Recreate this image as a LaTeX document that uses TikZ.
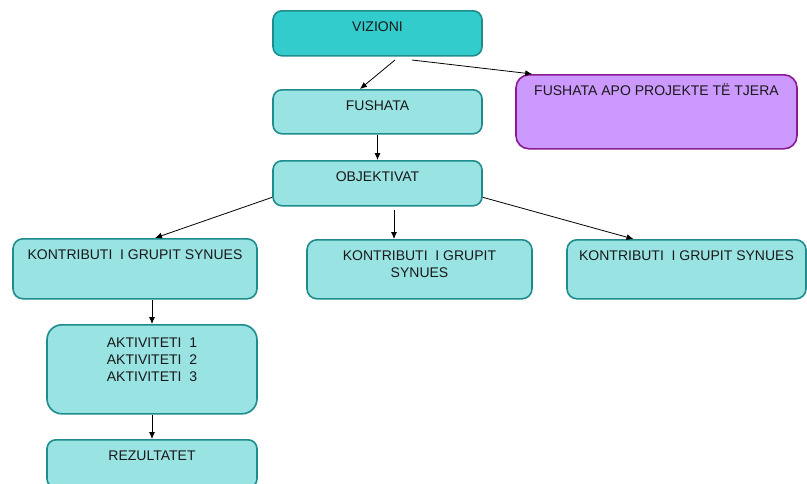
\documentclass[tikz,border=0pt]{standalone}
\usepackage{fontspec}
\setmainfont{Liberation Sans}
\usepackage{xcolor}
\usetikzlibrary{arrows.meta,calc,positioning}

\definecolor{vizfill}{HTML}{33CCCC}
\definecolor{boxfill}{HTML}{99E3E3}
\definecolor{boxline}{HTML}{1E8C8C}
\definecolor{purfill}{HTML}{CC99FF}
\definecolor{purline}{HTML}{8B1A94}

\tikzset{
  block/.style={draw=boxline, fill=boxfill, line width=1.6pt, rounded corners=9pt,
    anchor=north, align=center, inner xsep=3pt, inner ysep=0pt, text height=21pt,
    text=black!90, font=\fontsize{14}{17}\selectfont},
  conn/.style={-{Latex[length=7pt,width=6pt]}, line width=0.8pt}
}

\begin{document}
\begin{tikzpicture}[x=1pt,y=-1pt]
  \useasboundingbox (0,0) rectangle (807,483);

  % top row
  \node[block, fill=vizfill, minimum width=209pt, text depth=24pt] (viz) at (377.5,10) {VIZIONI};
  \node[block, minimum width=209pt, text depth=23pt] (fush) at (377.5,89) {FUSHATA};
  \node[block, draw=purline, fill=purfill, rounded corners=13pt, minimum width=281pt, text depth=53pt] (pur) at (656.5,74) {FUSHATA APO PROJEKTE TË TJERA};
  \node[block, minimum width=209pt, text depth=24pt] (obj) at (377.5,160) {OBJEKTIVAT};

  % contributions
  \node[block, rounded corners=10pt, minimum width=244pt, text depth=39pt] (kon1) at (135,238) {KONTRIBUTI\ \ I GRUPIT SYNUES};
  \node[block, rounded corners=10pt, minimum width=225pt, text height=38pt, text depth=21pt] (kon2) at (419.5,239) {KONTRIBUTI\ \ I GRUPIT\\SYNUES};
  \node[block, rounded corners=10pt, minimum width=239pt, text depth=38pt] (kon3) at (686.5,239) {KONTRIBUTI\ \ I GRUPIT SYNUES};

  % activities and results
  \node[block, rounded corners=15pt, minimum width=210pt, text height=57pt, text depth=32pt] (akt) at (152,324) {AKTIVITETI\ \ 1\\AKTIVITETI\ \ 2\\AKTIVITETI\ \ 3};
  \node[block, rounded corners=9pt, minimum width=210pt, text depth=27pt] (rez) at (152,439) {REZULTATET};

  % arrows
  \coordinate (vizA) at (395,60);
  \coordinate (vizB) at (412,60);
  \coordinate (objA) at (394,210);
  \draw[conn] (vizA) -- ([xshift=-17.5pt]fush.north);
  \draw[conn] (vizB) -- ([xshift=17pt]pur.north west);
  \draw[conn] (fush.south) -- (obj.north);
  \draw[conn] ([yshift=-14pt]obj.west) -- ([xshift=20pt]kon1.north);
  \draw[conn] (objA) -- (objA |- kon2.north);
  \draw[conn] ([yshift=-14pt]obj.east) -- ([xshift=-53pt]kon3.north);
  \draw[conn] (kon1.south -| akt.north) -- (akt.north);
  \draw[conn] (akt.south) -- (rez.north);
\end{tikzpicture}
\end{document}
